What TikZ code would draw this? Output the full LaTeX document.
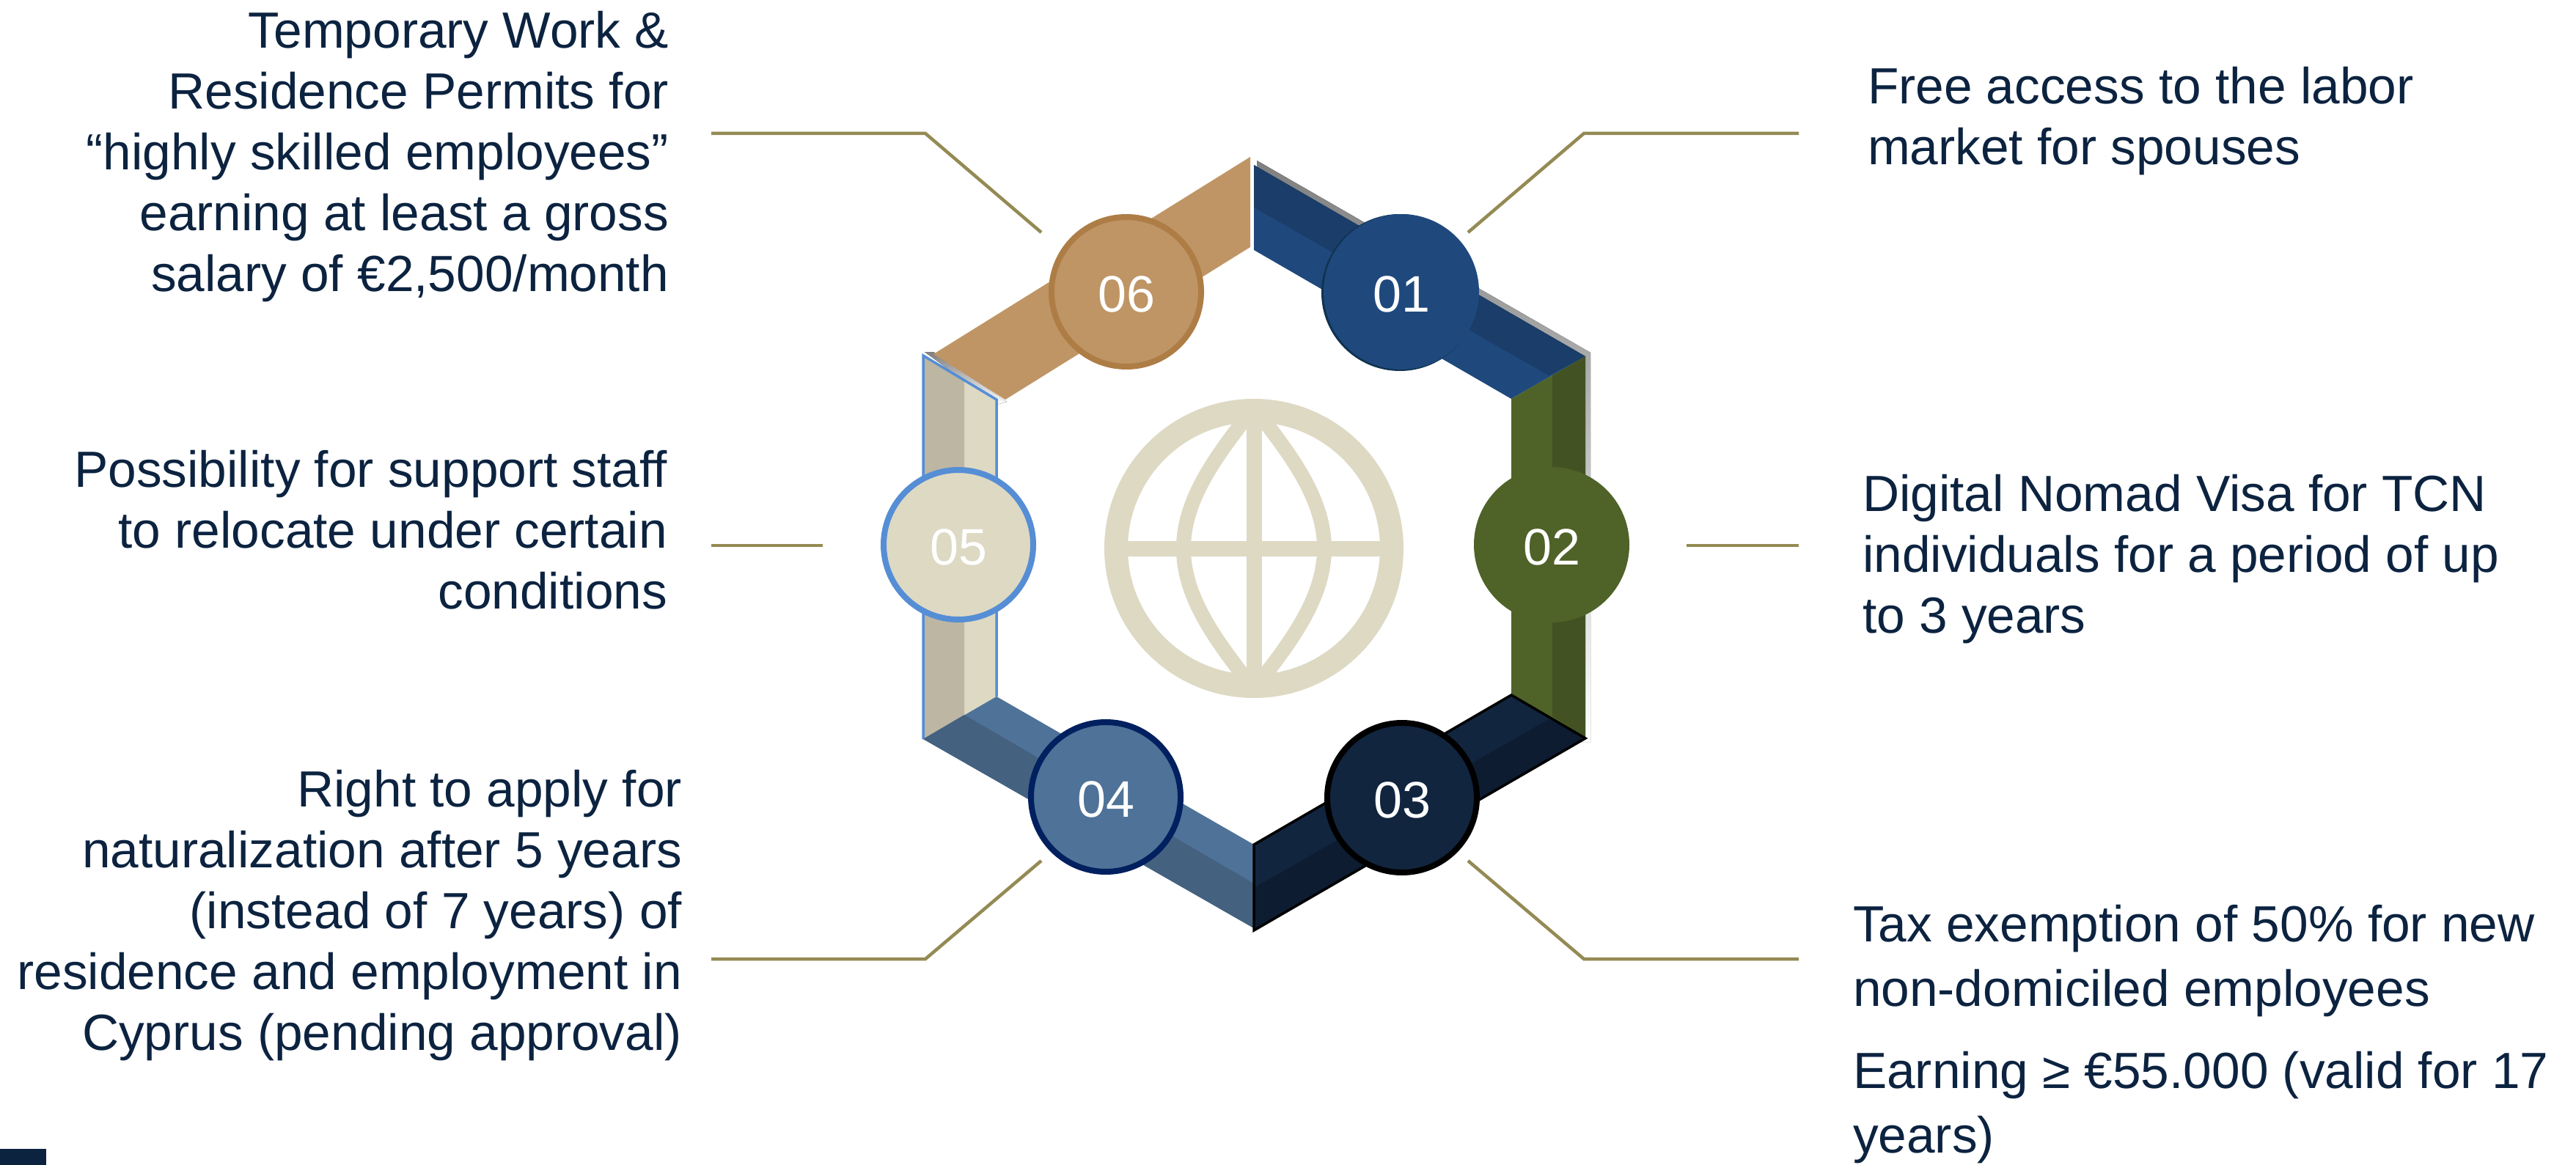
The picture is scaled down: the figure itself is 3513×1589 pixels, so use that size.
\documentclass[tikz,border=0pt]{standalone}
\usepackage{fontspec}
\setmainfont{Liberation Sans}
\definecolor{ink}{HTML}{0C2340}
\definecolor{leader}{HTML}{948A54}
\definecolor{blueA}{HTML}{1F497D}\definecolor{blueB}{HTML}{1A3D69}
\definecolor{greenA}{HTML}{4F6228}\definecolor{greenB}{HTML}{435222}
\definecolor{navyA}{HTML}{12253F}\definecolor{navyB}{HTML}{0D1C30}
\definecolor{steelA}{HTML}{4F7298}\definecolor{steelB}{HTML}{44617F}
\definecolor{sandA}{HTML}{DDD9C3}\definecolor{sandB}{HTML}{BDB6A3}
\definecolor{tanA}{HTML}{BF9565}\definecolor{tanE}{HTML}{AE7D46}
\definecolor{skyE}{HTML}{558ED5}
\definecolor{deepE}{HTML}{002060}
\definecolor{tealE}{HTML}{0F3350}
\definecolor{shade}{HTML}{DCDCDC}
\tikzset{
  x=1pt,y=-1pt,
  blocktext/.style={inner sep=0pt,outer sep=0pt,text=ink,font=\fontsize{69.4}{83}\selectfont},
  blockright/.style={blocktext,anchor=north east,align=right},
  blockleft/.style={blocktext,anchor=north west,align=left},
  numdisc/.style={circle,minimum size=#1,inner sep=0pt,text=white,text height=54pt,text depth=0pt,font=\fontsize{70}{80}\selectfont},
  leaderline/.style={draw=leader,line width=4.5pt,line join=miter},
  globeline/.style={draw=sandA,line width=21pt},
  meridian/.style={draw=sandA,line width=20pt}
}
\begin{document}
\begin{tikzpicture}
\useasboundingbox (0,0) rectangle (3513,1589);
\fill[white] (0,0) rectangle (3513,1589);
% grey edge shadows
\fill[shade] (1714,219) -- (2169,481) -- (2169,1012) -- (2150,1012) -- (2150,490) -- (1714,235) -- cycle;
\fill[shade] (1261,480) -- (1273,480) -- (1373,548) -- (1359,552) -- cycle;
% 06
\fill[tanA] (1705,214) -- (1705,337) -- (1371,545) -- (1273,483) -- cycle;
% 01
\fill[blueA] (1710,225) -- (2162,486) -- (2061,544) -- (1710,341) -- cycle;
\fill[blueB] (1710,225) -- (2162,486) -- (2112,512) -- (1710,283) -- cycle;
% 02
\fill[greenA] (2061,544) -- (2162,486) -- (2162,1006) -- (2061,948) -- cycle;
\fill[greenB] (2117,512) -- (2162,486) -- (2162,1006) -- (2117,977) -- cycle;
% 05
\fill[sandA] (1259,485) -- (1359,545) -- (1359,950) -- (1259,1008) -- cycle;
\fill[sandB] (1259,485) -- (1315,519) -- (1315,975) -- (1259,1008) -- cycle;
\draw[skyE,line width=3.5pt,line join=miter] (1259,1008) -- (1259,485) -- (1359,545) -- (1359,950);
% 04
\fill[steelA] (1359,950) -- (1710,1152) -- (1710,1266) -- (1259,1008) -- cycle;
\fill[steelB] (1315,975) -- (1710,1205) -- (1710,1266) -- (1259,1008) -- cycle;
% 03
\fill[navyA] (1710,1152) -- (2061,948) -- (2162,1007) -- (1710,1269) -- cycle;
\fill[navyB] (1710,1211) -- (2112,981) -- (2162,1007) -- (1710,1269) -- cycle;
\draw[black,line width=3.5pt,line join=miter] (1710,1269) -- (1710,1152) -- (2061,948) -- (2162,1007) -- cycle;
% globe
\draw[sandA,line width=32pt] (1710,748) circle[radius=188];
\draw[globeline] (1710,560) -- (1710,936);
\draw[globeline] (1522,748) -- (1898,748);
\draw[meridian] (1710,556) .. controls (1660,620) and (1614,680) .. (1614,748) .. controls (1614,816) and (1660,876) .. (1710,940);
\draw[meridian] (1710,556) .. controls (1760,620) and (1806,680) .. (1806,748) .. controls (1806,816) and (1760,876) .. (1710,940);
% leaders
\coordinate (tlA) at (970,182); \coordinate (tlB) at (1262,182); \coordinate (tlC) at (1420,317);
\coordinate (trA) at (2453,182); \coordinate (trB) at (2160,182); \coordinate (trC) at (2002,317);
\coordinate (blA) at (970,1308); \coordinate (blB) at (1262,1308); \coordinate (blC) at (1420,1174);
\coordinate (brA) at (2453,1308); \coordinate (brB) at (2160,1308); \coordinate (brC) at (2002,1174);
\coordinate (mlA) at (970,744); \coordinate (mlB) at (1122,744);
\coordinate (mrA) at (2300,744); \coordinate (mrB) at (2453,744);
\draw[leaderline] (tlA) -- (tlB) -- (tlC);
\draw[leaderline] (trA) -- (trB) -- (trC);
\draw[leaderline] (blA) -- (blB) -- (blC);
\draw[leaderline] (brA) -- (brB) -- (brC);
\draw[leaderline] (mlA) -- (mlB);
\draw[leaderline] (mrA) -- (mrB);
% discs
\fill[tealE] (1909,399) circle[radius=107];
\node[numdisc=212pt,fill=blueA] (n01) at (1911,398) {01};
\node[numdisc=212pt,fill=greenA] (n02) at (2116,743) {02};
\node[numdisc=204pt,fill=navyA,draw=black,line width=8pt] (n03) at (1912,1088) {03};
\node[numdisc=204pt,fill=steelA,draw=deepE,line width=8pt] (n04) at (1508,1087) {04};
\node[numdisc=204pt,fill=sandA,draw=skyE,line width=8pt] (n05) at (1307,743) {05};
\node[numdisc=204pt,fill=tanA,draw=tanE,line width=8pt] (n06) at (1536,398) {06};
% texts
\node[blockright] (t6) at (912,15) {Temporary Work \&\\Residence Permits for\\“highly skilled employees”\\earning at least a gross\\salary of €2,500/month};
\node[blockright] (t5) at (910,614) {Possibility for support staff\\to relocate under certain\\conditions};
\node[blockright] (t4) at (930,1050) {Right to apply for\\naturalization after 5 years\\(instead of 7 years) of\\residence and employment in\\Cyprus (pending approval)};
\node[blockleft] (t1) at (2547,91) {Free access to the labor\\market for spouses};
\node[blockleft] (t2) at (2540,647) {Digital Nomad Visa for TCN\\individuals for a period of up\\to 3 years};
\node[blockleft,font=\fontsize{69.4}{88}\selectfont] (t3) at (2527,1234) {Tax exemption of 50\% for new\\non-domiciled employees};
\node[blockleft,font=\fontsize{69.4}{88}\selectfont] (t3b) at (2527,1434) {Earning ≥ €55.000 (valid for 17\\years)};
\fill[ink] (0,1567) rectangle (63,1589);
\end{tikzpicture}
\end{document}
